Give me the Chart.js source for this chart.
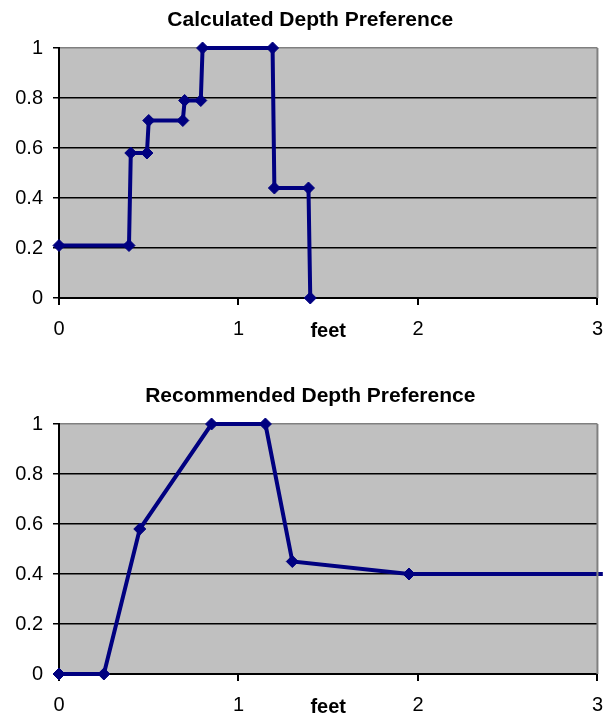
<!DOCTYPE html>
<html>
<head>
<meta charset="utf-8">
<script src="https://cdn.jsdelivr.net/npm/chart.js@4/dist/chart.umd.min.js"></script>
<style>
  html, body { margin: 0; padding: 0; background: #fff; overflow: hidden; }
  body { width: 615px; height: 719px; position: relative; }
  canvas { position: absolute; left: 0; }
  #calcChart { top: 0; }
  #recChart { top: 376px; }
</style>
</head>
<body>
<canvas id="calcChart" width="615" height="345"></canvas>
<canvas id="recChart" width="615" height="345"></canvas>
<script>
// data
const calcFeet = [0, 0.39, 0.4, 0.49, 0.5, 0.69, 0.7, 0.79, 0.8, 1.19, 1.2, 1.39, 1.4];
const calcPref = [0.21, 0.21, 0.58, 0.58, 0.71, 0.71, 0.79, 0.79, 1, 1, 0.44, 0.44, 0];

const recFeet = [0, 0.25, 0.45, 0.85, 1.15, 1.3, 1.95, 3.03];
const recPref = [0, 0, 0.58, 1, 1, 0.45, 0.4, 0.4];

const xTicks = [0, 1, 2, 3];
const yTicks = [0, 0.2, 0.4, 0.6, 0.8, 1];
const axisTitle = "feet";

const FONT = "'Liberation Sans', Arial, sans-serif";
const NAVY = "#000080";

// grey plot background + grey top/right border, chart title, "feet" next to the tick labels
const plotAreaPlugin = {
  id: "plotArea",
  beforeDraw(chart) {
    const { ctx, chartArea: a } = chart;
    ctx.save();
    ctx.fillStyle = "#c0c0c0";
    ctx.fillRect(a.left, a.top, a.right - a.left, a.bottom - a.top);
    ctx.restore();
  },
  afterDraw(chart, args, opts) {
    const { ctx, chartArea: a, scales } = chart;
    ctx.save();
    ctx.strokeStyle = "#808080";
    ctx.lineWidth = 2;
    ctx.beginPath();
    ctx.moveTo(a.right, a.bottom);
    ctx.lineTo(a.right, a.top);
    ctx.stroke();

    ctx.fillStyle = "#000";
    ctx.textAlign = "center";
    ctx.textBaseline = "alphabetic";
    ctx.font = "bold 21px " + FONT;
    ctx.fillText(opts.title, scales.x.getPixelForValue(1.4), 26);

    ctx.font = "bold 20px " + FONT;
    ctx.fillText(axisTitle, scales.x.getPixelForValue(1.5), scales.x.top + 39);
    ctx.restore();
  }
};

function makeChart(canvasId, title, xs, ys) {
  const points = xs.map((x, i) => ({ x, y: ys[i] }));
  // last point of a series that runs past x=3 carries no marker
  const radii = xs.map(x => (x > 3 ? 0 : 6));

  return new Chart(document.getElementById(canvasId), {
    type: "scatter",
    data: {
      datasets: [{
        data: points,
        showLine: true,
        borderColor: NAVY,
        borderWidth: 4,
        backgroundColor: NAVY,
        pointStyle: "rectRot",
        pointRadius: radii,
        pointBorderWidth: 1,
        pointBorderColor: NAVY,
        clip: false
      }]
    },
    options: {
      responsive: false,
      animation: false,
      layout: { padding: { left: 0, right: 13, top: 48, bottom: 0 } },
      plugins: {
        legend: { display: false },
        tooltip: { enabled: false },
        title: { display: false },
        plotArea: { title }
      },
      scales: {
        x: {
          type: "linear",
          min: 0,
          max: 3,
          afterBuildTicks: s => { s.ticks = xTicks.map(v => ({ value: v })); },
          afterFit: s => { s.height = 47; },
          ticks: { color: "#000", font: { family: FONT, size: 20 }, padding: 12 },
          grid: { drawOnChartArea: false, drawTicks: true, tickLength: 7, color: "#000", lineWidth: 2 },
          border: { color: "#000", width: 2 }
        },
        y: {
          min: 0,
          max: 1,
          afterBuildTicks: s => { s.ticks = yTicks.map(v => ({ value: v })); },
          afterFit: s => { s.width = 59; },
          ticks: {
            color: "#000",
            font: { family: FONT, size: 20 },
            padding: 10,
            callback: v => String(v)
          },
          grid: {
            color: c => (c.tick && c.tick.value === 1 ? "#808080" : "#000"),
            tickColor: "#000",
            lineWidth: 1.5,
            tickLength: 6
          },
          border: { color: "#000", width: 2 }
        }
      }
    },
    plugins: [plotAreaPlugin]
  });
}

makeChart("calcChart", "Calculated Depth Preference", calcFeet, calcPref);
makeChart("recChart", "Recommended Depth Preference", recFeet, recPref);
</script>
</body>
</html>
